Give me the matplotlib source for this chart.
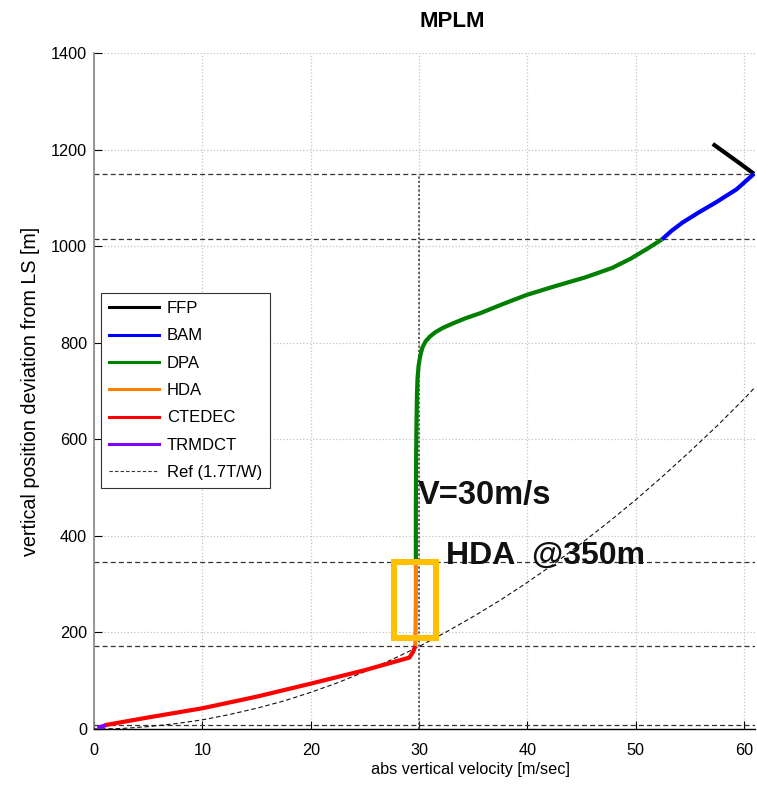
"""MPLM 下降剖面：垂直速度 vs 相对 LS 的垂直位置偏差。"""

from __future__ import annotations

import matplotlib

matplotlib.use("Agg")
import matplotlib.pyplot as plt
from matplotlib.lines import Line2D
from matplotlib.patches import Rectangle

plt.rcParams["font.family"] = ["Liberation Sans", "DejaVu Sans"]

# 各飞行阶段的 (速度 m/s, 高度 m)，从原图读取。
FFP_V = [57.1, 58.4, 59.7, 60.9]
FFP_H = [1212, 1191, 1170, 1150]

BAM_V = [52.4, 53.3, 54.3, 55.8, 57.4, 59.3, 60.9]
BAM_H = [1014, 1032, 1049, 1070, 1091, 1118, 1150]

DPA_V = [29.7, 29.7, 29.72, 29.75, 29.8, 29.85, 29.95, 30.1, 30.3, 30.6,
         31.0, 31.5, 32.2, 33.1, 34.3, 35.6, 37.7, 39.9, 42.5, 45.4,
         47.8, 49.5, 51.0, 52.4]
DPA_H = [350, 450, 550, 620, 690, 725, 752, 773, 790, 803,
         813, 822, 831, 840, 851, 861, 880, 899, 917, 936,
         955, 974, 994, 1014]

HDA_V = [29.65, 29.7, 29.7]
HDA_H = [172, 260, 350]

CTEDEC_V = [1.0, 5.0, 10.0, 15.0, 20.0, 25.0, 29.1, 29.45, 29.65]
CTEDEC_H = [8, 24, 43, 67, 94, 122, 148, 160, 172]

TRMDCT_V = [0.3, 0.7, 1.1]
TRMDCT_H = [3, 5, 8]

REF_V = [0, 2.5, 5, 7.5, 10, 12.5, 15, 17.5, 20, 22.5, 25, 27.5, 30, 32.5, 35,
         37.5, 40, 42.5, 45, 47.5, 50, 52.5, 55, 57.5, 60, 61]
REF_H = [0, 1, 5, 11, 19, 30, 43, 58, 76, 96, 119, 144, 171, 201, 233,
         267, 304, 343, 385, 429, 475, 524, 575, 628, 684, 708]

# 阶段切换高度与 30 m/s 参考线
GATE_H = [1150, 1015, 347, 173, 9]
V_REF = 30.0
V_REF_TOP = 1150

PHASES = [
    ("FFP", FFP_V, FFP_H, "#000000"),
    ("BAM", BAM_V, BAM_H, "#0000ff"),
    ("DPA", DPA_V, DPA_H, "#007f00"),
    ("HDA", HDA_V, HDA_H, "#ff8000"),
    ("CTEDEC", CTEDEC_V, CTEDEC_H, "#ff0000"),
    ("TRMDCT", TRMDCT_V, TRMDCT_H, "#7f00ff"),
]

# HDA 窗口（速度范围, 高度范围）
BOX_V = (27.7, 31.55)
BOX_H = (188, 346)


def plot_profile(path: str) -> None:
    fig = plt.figure(figsize=(7.57, 7.85), dpi=100)
    ax = fig.add_axes([0.1242, 0.0713, 0.8732, 0.861])

    ax.grid(True, ls=":", color="#c4c4c4", lw=0.9)
    ax.set_axisbelow(True)

    for h in GATE_H:
        ax.axhline(h, color="#333333", ls=(0, (4, 2.5)), lw=0.9, zorder=2)
    ax.plot([V_REF, V_REF], [0, V_REF_TOP], color="#555555", ls=(0, (1.2, 1.2)),
            lw=1.3, zorder=2)

    ax.plot(REF_V, REF_H, color="#111111", ls=(0, (4, 2.5)), lw=0.8, zorder=3)
    for name, v, h, c in PHASES:
        ax.plot(v, h, color=c, lw=3.0, solid_capstyle="butt", zorder=4)

    ax.add_patch(
        Rectangle(
            (BOX_V[0], BOX_H[0]),
            BOX_V[1] - BOX_V[0],
            BOX_H[1] - BOX_H[0],
            fill=False,
            ec="#ffc000",
            lw=4.3,
            zorder=5,
        )
    )

    ax.text(29.9, 466, "V=30m/s", fontsize=23.5, fontweight="bold", color="#111111",
            zorder=6)
    ax.text(32.5, 342, "HDA  @350m", fontsize=23, fontweight="bold", color="#111111",
            zorder=6)

    handles = [Line2D([], [], color=c, lw=2.2) for _, _, _, c in PHASES]
    handles.append(Line2D([], [], color="#333333", ls=(0, (3, 2)), lw=0.8))
    labels = [p[0] for p in PHASES] + ["Ref (1.7T/W)"]
    leg = ax.legend(
        handles,
        labels,
        loc="upper left",
        bbox_to_anchor=(0.0106, 0.6454),
        borderaxespad=0,
        borderpad=0.5,
        fontsize=12,
        handlelength=3.0,
        handletextpad=0.45,
        labelspacing=0.74,
        fancybox=False,
        framealpha=1,
        edgecolor="#333333",
    )
    leg.get_frame().set_linewidth(0.8)

    ax.set_xlim(0, 61)
    ax.set_ylim(0, 1400)
    ax.set_xticks(range(0, 61, 10))
    ax.set_yticks(range(0, 1401, 200))
    ax.tick_params(direction="in", length=6, labelsize=11.7)
    ax.tick_params(axis="x", pad=10)
    ax.tick_params(axis="y", pad=5)
    ax.spines["top"].set_visible(False)
    ax.spines["right"].set_visible(False)
    ax.spines["left"].set_color("#888888")
    ax.spines["left"].set_linewidth(1.2)
    ax.spines["bottom"].set_linewidth(1.0)

    ax.set_xlabel("abs vertical velocity [m/sec]", fontsize=11.7)
    ax.xaxis.set_label_coords(0.570, -0.049)
    ax.set_ylabel("vertical position deviation from LS [m]", fontsize=14.2)
    ax.yaxis.set_label_coords(-0.081, 0.5)
    fig.text(0.5975, 0.973, "MPLM", fontsize=16, fontweight="bold", ha="center",
             va="center")

    fig.savefig(path, dpi=100)
    plt.close(fig)


def main() -> None:
    plot_profile("out.png")


if __name__ == "__main__":
    main()
